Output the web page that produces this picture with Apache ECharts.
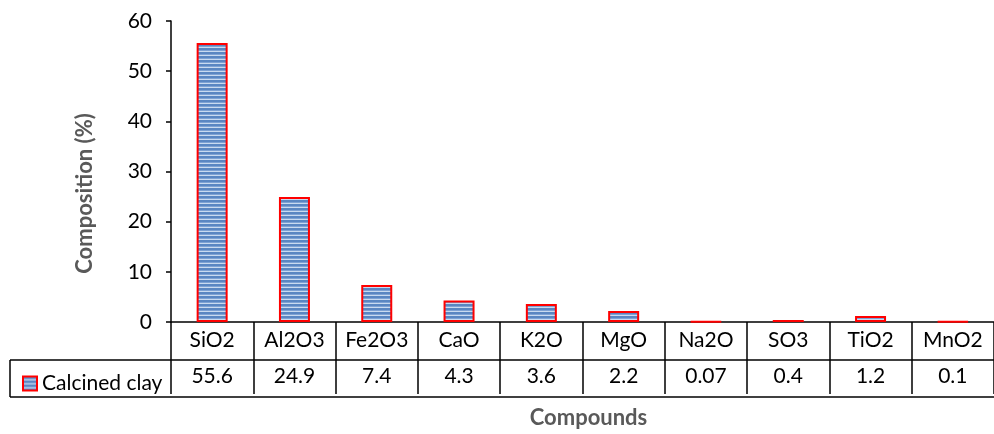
<!DOCTYPE html>
<html><head><meta charset="utf-8">
<script src="https://cdn.jsdelivr.net/npm/echarts@6/dist/echarts.min.js"></script>
<style>html,body{margin:0;padding:0;background:#fff}#c{width:994px;height:434px}</style>
</head><body><div id="c"></div>
<script>
var categories = ['SiO2','Al2O3','Fe2O3','CaO','K2O','MgO','Na2O','SO3','TiO2','MnO2'];
var values = [55.6, 24.9, 7.4, 4.3, 3.6, 2.2, 0.07, 0.4, 1.2, 0.1];
var valueLabels = ['55.6','24.9','7.4','4.3','3.6','2.2','0.07','0.4','1.2','0.1'];
var seriesName = 'Calcined clay';

var FONT = 'Lato, "Open Sans", sans-serif';
var pc = document.createElement('canvas');
pc.width = 4; pc.height = 4;
var g = pc.getContext('2d');
g.fillStyle = '#c9daf0'; g.fillRect(0,0,4,4);
g.fillStyle = '#5a86c2'; g.fillRect(0,0,4,2);
g.fillStyle = '#7ea2d4'; g.fillRect(0,2,4,1);

var chart = echarts.init(document.getElementById('c'));
chart.setOption({
  animation: false,
  grid: {left: 171, right: 0, top: 21, bottom: 109, containLabel: false},
  legend: {
    left: 17, top: 368, itemWidth: 14, itemHeight: 14, itemGap: 6,
    icon: 'rect',
    textStyle: {fontFamily: FONT, fontSize: 21, color: '#000'},
    data: [seriesName]
  },
  xAxis: {
    type: 'category', data: categories,
    name: 'Compounds', nameLocation: 'middle', nameGap: 85,
    nameTextStyle: {fontFamily: FONT, fontSize: 22, fontWeight: 'bold', color: '#595959', padding: [0, 0, 0, 12]},
    axisLine: {lineStyle: {color: '#000', width: 1.5}},
    axisTick: {show: true, length: 72, lineStyle: {color: '#000', width: 1.5}},
    axisLabel: {
      interval: 0, margin: 0,
      formatter: function (v, i) { return '{a|' + v + '}\n{b|' + valueLabels[i] + '}'; },
      rich: {
        a: {fontFamily: FONT, fontSize: 21, color: '#000', lineHeight: 36},
        b: {fontFamily: FONT, fontSize: 21, color: '#000', lineHeight: 36}
      }
    }
  },
  yAxis: {
    type: 'value', min: 0, max: 60, interval: 10,
    name: 'Composition (%)', nameLocation: 'middle', nameGap: 75,
    nameTextStyle: {fontFamily: FONT, fontSize: 22, fontWeight: 'bold', color: '#595959', padding: [0, 44, 0, 0]},
    axisLine: {show: true, lineStyle: {color: '#000', width: 1.5}},
    axisTick: {show: true, length: 5, lineStyle: {color: '#000', width: 1.5}},
    splitLine: {show: false},
    axisLabel: {fontFamily: FONT, fontSize: 21, color: '#000', margin: 19}
  },
  series: [{
    name: seriesName, type: 'bar', data: values, barWidth: 31,
    itemStyle: {color: {image: pc, repeat: 'repeat'}, borderColor: '#ff0000', borderWidth: 2}
  }],
  graphic: [
    {type: 'line', shape: {x1: 10, y1: 360, x2: 994, y2: 360}, style: {stroke: '#000', lineWidth: 1.5}},
    {type: 'line', shape: {x1: 10, y1: 397, x2: 994, y2: 397}, style: {stroke: '#000', lineWidth: 1.5}},
    {type: 'line', shape: {x1: 10, y1: 360, x2: 10, y2: 397}, style: {stroke: '#000', lineWidth: 1.5}}
  ]
});
</script></body></html>
